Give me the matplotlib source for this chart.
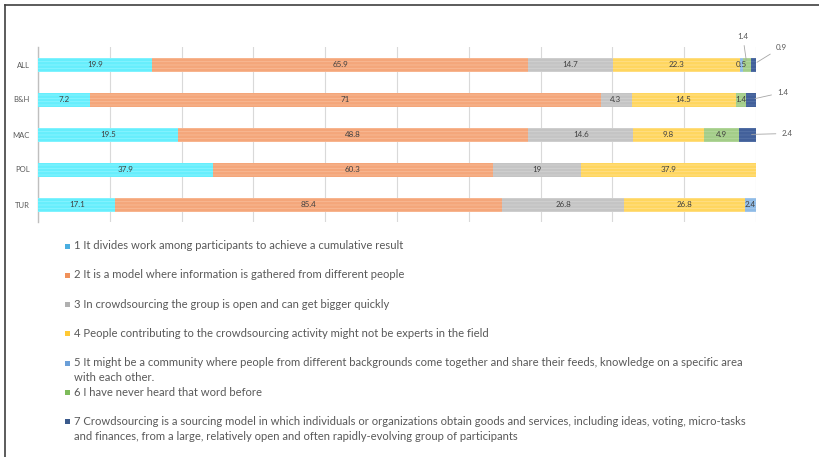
import matplotlib
matplotlib.use('Agg')
import matplotlib.pyplot as plt
from matplotlib.patches import Rectangle
from matplotlib.lines import Line2D
import numpy as np

plt.rcParams['font.family'] = ['Lato', 'DejaVu Sans']
plt.rcParams['hatch.linewidth'] = 0.6

# data (% of respondents per statement, by country)
countries = ['ALL', 'B&H', 'MAC', 'POL', 'TUR']
s1 = [19.9, 7.2, 19.5, 37.9, 17.1]
s2 = [65.9, 71, 48.8, 60.3, 85.4]
s3 = [14.7, 4.3, 14.6, 19, 26.8]
s4 = [22.3, 14.5, 9.8, 37.9, 26.8]
s5 = [0.5, 0, 0, 0, 2.4]
s6 = [1.4, 1.4, 4.9, 0, 0]
s7 = [0.9, 1.4, 2.4, 0, 0]
series = [s1, s2, s3, s4, s5, s6, s7]

labels = [
    '1 It divides work among participants to achieve a cumulative result',
    '2 It is a model where information is gathered from different people',
    '3 In crowdsourcing the group is open and can get bigger quickly',
    '4 People contributing to the crowdsourcing activity might not be experts in the field',
    '5 It might be a community where people from different backgrounds come together and share their feeds, knowledge on a specific area\nwith each other.',
    '6 I have never heard that word before',
    '7 Crowdsourcing is a sourcing model in which individuals or organizations obtain goods and services, including ideas, voting, micro-tasks\nand finances, from a large, relatively open and often rapidly-evolving group of participants',
]

# bar fill, stripe colour, legend swatch
fills = ['#66eefc', '#f4a67a', '#c4c4c4', '#ffd65e', '#8fbbe6', '#a3cd88', '#42609a']
stripes = ['#8af4ff', '#f8bb96', '#d2d2d2', '#ffe08c', '#a6c9ec', '#b5d89e', '#5673a8']
swatch = ['#4aaee0', '#f0915a', '#b0b0b0', '#ffc935', '#6a9fd8', '#7dbb5a', '#3a5a8c']

# callout label offsets (pixels) for small segments: (series idx, row idx) -> (dx, dy)
callouts = {(5, 0): (-4, 28), (6, 0): (22, 17), (6, 1): (26, 7), (6, 2): (34, 1)}

data = np.array(series, dtype=float)
pct = data / data.sum(axis=0)

fig = plt.figure(figsize=(8.19, 4.57), dpi=100)
ax = fig.add_axes([38 / 819, 1 - 222 / 457, 718 / 819, 175 / 457])

y = np.arange(len(countries))
left = np.zeros(len(countries))
for i in range(len(series)):
    bars = ax.barh(y, pct[i], left=left, height=0.4, color=fills[i],
                   edgecolor=stripes[i], hatch='-----', linewidth=0, zorder=3)
    for j, b in enumerate(bars):
        v = data[i, j]
        if v == 0:
            continue
        cx = left[j] + pct[i, j] / 2
        txt = f'{v:g}'
        if (i, j) in callouts:
            dx, dy = callouts[(i, j)]
            ax.annotate(txt, xy=(cx, y[j]), xytext=(dx, dy), textcoords='offset pixels',
                        ha='left' if dx > 5 else 'center', va='center',
                        fontsize=5.8, color='#595959',
                        arrowprops=dict(arrowstyle='-', color='#a6a6a6', lw=0.6,
                                        shrinkA=2, shrinkB=3),
                        zorder=5, annotation_clip=False)
        else:
            ax.text(cx, y[j], txt, ha='center', va='center', fontsize=5.8,
                    color='#404040', zorder=4)
    left += pct[i]

ax.set_xlim(0, 1)
ax.set_ylim(len(countries) - 0.5, -0.5)
ax.set_xticks(np.arange(0, 1.01, 0.1))
ax.set_xticklabels([])
ax.tick_params(axis='x', length=0)
ax.set_yticks(y)
ax.set_yticklabels(countries, fontsize=5.5, color='#595959')
ax.tick_params(axis='y', length=0, pad=6)
ax.grid(axis='x', color='#d9d9d9', linewidth=0.8, zorder=0)
for s in ['top', 'right', 'bottom']:
    ax.spines[s].set_visible(False)
ax.spines['left'].set_color('#bfbfbf')
ax.spines['left'].set_linewidth(1.0)

# legend drawn by hand below the chart
y0 = 246
step = 29.3
for k, lab in enumerate(labels):
    py = y0 + k * step
    fig.patches.append(Rectangle((65 / 819, 1 - (py + 2.5) / 457), 5 / 819, 5 / 457,
                                 transform=fig.transFigure, facecolor=swatch[k],
                                 edgecolor='none'))
    fig.text(74 / 819, 1 - (py - 6) / 457, lab, ha='left', va='top', fontsize=8.1,
             color='#595959', linespacing=1.45)

# outer frame (top and left edges)
fig.lines.append(Line2D([5 / 819, 1], [1 - 5 / 457, 1 - 5 / 457], transform=fig.transFigure,
                        color='#404040', linewidth=1.2))
fig.lines.append(Line2D([5 / 819, 5 / 819], [0, 1 - 5 / 457], transform=fig.transFigure,
                        color='#404040', linewidth=1.2))

fig.savefig('out.png', dpi=100, facecolor='white')
